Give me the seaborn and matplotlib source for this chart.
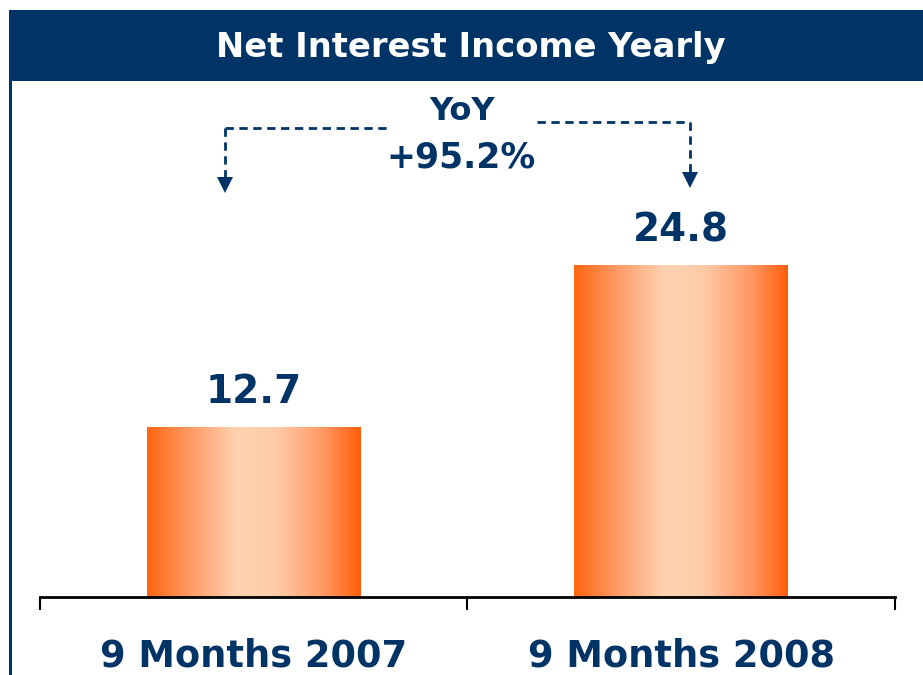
"""
Net interest income, 9 months 2007 vs 2008
"""
import numpy as np
import matplotlib
matplotlib.use('Agg')
import matplotlib.pyplot as plt
from matplotlib.colors import LinearSegmentedColormap
from matplotlib.patches import Rectangle
import seaborn as sns

# Data
categories = ['9 Months 2007', '9 Months 2008']
values = [12.7, 24.8]
title = 'Net Interest Income Yearly'
yoy_label = 'YoY'
yoy_change = '+95.2%'

navy = '#003366'

sns.set_theme(style='white')
plt.rcParams['font.family'] = ['DejaVu Sans']

W, H = 923, 675
fig = plt.figure(figsize=(W / 100, H / 100), dpi=100)
fig.patch.set_facecolor('white')

# header band + left border
fig.patches.append(Rectangle((9 / W, 1 - 81 / H), 1, 71 / H, transform=fig.transFigure,
                             facecolor=navy, edgecolor='none', zorder=0))
fig.patches.append(Rectangle((9 / W, 0), 3 / W, 1 - 10 / H, transform=fig.transFigure,
                             facecolor=navy, edgecolor='none', zorder=0))
fig.text(471 / W, 1 - 47 / H, title, color='white', fontsize=24.3, fontweight='bold',
         ha='center', va='center')

ax = fig.add_axes([40 / W, 78 / H, 855 / W, 517 / H])
sns.barplot(x=categories, y=values, width=0.5, color='#FF8040', ax=ax)

# gradient fill on each bar
cmap = LinearSegmentedColormap.from_list('bar', [
    (0.0, '#FF6610'), (0.2, '#FF9A66'), (0.42, '#FFD2B2'),
    (0.6, '#FFCCAA'), (0.82, '#FF9A66'), (1.0, '#FF5F0A')])
grad = np.linspace(0, 1, 256).reshape(1, -1)
for p in ax.patches:
    x0, y0, w, h = p.get_x(), p.get_y(), p.get_width(), p.get_height()
    ax.imshow(grad, extent=[x0, x0 + w, y0, y0 + h], aspect='auto', cmap=cmap,
              zorder=p.get_zorder() + 0.1)
    p.set_facecolor('none')

ax.set_xlim(-0.5, 1.5)
ax.set_ylim(0, 38.7)

ax.bar_label(ax.containers[0], fmt='%.1f', padding=12, color=navy,
             fontsize=28, fontweight='bold')

# axis styling
for s in ['top', 'right', 'left']:
    ax.spines[s].set_visible(False)
ax.spines['bottom'].set_color('black')
ax.spines['bottom'].set_linewidth(2)
ax.set_yticks([])
ax.set_xticks([-0.5, 0.5, 1.5])
ax.set_xticklabels([])
ax.tick_params(axis='x', which='major', direction='out', length=9, width=1.5,
               color='black', bottom=True)
ax.set_xticks([0, 1], minor=True)
ax.set_xticklabels(categories, minor=True)
ax.tick_params(axis='x', which='minor', length=0, pad=29, labelsize=26.5,
               labelcolor=navy)
for lbl in ax.get_xticklabels(minor=True):
    lbl.set_fontweight('bold')
ax.set_xlabel('')
ax.set_ylabel('')

# YoY annotation with dashed arrows
fig.text(462 / W, 1 - 111 / H, yoy_label, color=navy, fontsize=23, fontweight='bold',
         ha='center', va='center')
fig.text(461 / W, 1 - 157 / H, yoy_change, color=navy, fontsize=25, fontweight='bold',
         ha='center', va='center')
dash = dict(color=navy, lw=2, ls=(0, (3, 2)))
fig.add_artist(plt.Line2D([225 / W, 388 / W], [1 - 128 / H, 1 - 128 / H], **dash))
fig.add_artist(plt.Line2D([225 / W, 225 / W], [1 - 128 / H, 1 - 178 / H], **dash))
fig.add_artist(plt.Line2D([537 / W, 690 / W], [1 - 122 / H, 1 - 122 / H], **dash))
fig.add_artist(plt.Line2D([690 / W, 690 / W], [1 - 122 / H, 1 - 173 / H], **dash))
for xh, yh in [(225, 193), (690, 188)]:
    fig.add_artist(plt.Polygon([[(xh - 8) / W, 1 - (yh - 16) / H],
                                [(xh + 8) / W, 1 - (yh - 16) / H],
                                [xh / W, 1 - yh / H]],
                               closed=True, transform=fig.transFigure,
                               facecolor=navy, edgecolor='none'))

fig.savefig('out.png', dpi=100)
